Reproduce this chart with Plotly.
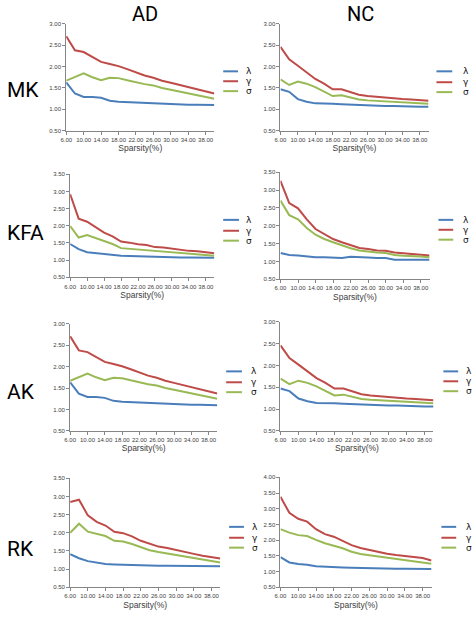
import plotly.graph_objects as go

W, H = 472, 617

sparsity = [6, 8, 10, 12, 14, 16, 18, 20, 22, 24, 26, 28, 30, 32, 34, 36, 38, 40]
tick_vals = [6, 10, 14, 18, 22, 26, 30, 34, 38]
tick_text = ["6.00", "10.00", "14.00", "18.00", "22.00", "26.00", "30.00", "34.00", "38.00"]

series_names = ["λ", "γ", "σ"]
series_colors = ["#4A7EBB", "#BE4B48", "#98B954"]

row_labels = ["MK", "KFA", "AK", "RK"]
col_labels = ["AD", "NC"]

# MK
mk_ad_lambda = [1.63, 1.37, 1.29, 1.29, 1.27, 1.20, 1.18, 1.17, 1.16, 1.15, 1.14, 1.13, 1.12, 1.12, 1.11, 1.11, 1.10, 1.10]
mk_ad_gamma = [2.71, 2.38, 2.34, 2.23, 2.11, 2.06, 2.01, 1.94, 1.87, 1.79, 1.74, 1.67, 1.62, 1.57, 1.53, 1.47, 1.42, 1.37]
mk_ad_sigma = [1.67, 1.75, 1.84, 1.75, 1.68, 1.74, 1.73, 1.68, 1.63, 1.59, 1.56, 1.50, 1.46, 1.42, 1.38, 1.34, 1.29, 1.25]
mk_nc_lambda = [1.47, 1.41, 1.24, 1.18, 1.14, 1.14, 1.13, 1.12, 1.11, 1.10, 1.09, 1.09, 1.08, 1.08, 1.07, 1.07, 1.06, 1.06]
mk_nc_gamma = [2.46, 2.17, 2.02, 1.87, 1.71, 1.60, 1.47, 1.47, 1.41, 1.34, 1.31, 1.29, 1.28, 1.26, 1.24, 1.23, 1.21, 1.20]
mk_nc_sigma = [1.70, 1.57, 1.65, 1.60, 1.52, 1.42, 1.31, 1.33, 1.28, 1.23, 1.21, 1.20, 1.19, 1.18, 1.17, 1.16, 1.14, 1.13]

# KFA
kfa_ad_lambda = [1.47, 1.32, 1.23, 1.20, 1.17, 1.15, 1.13, 1.12, 1.11, 1.10, 1.10, 1.09, 1.09, 1.08, 1.08, 1.07, 1.07, 1.07]
kfa_ad_gamma = [2.92, 2.21, 2.12, 1.97, 1.80, 1.69, 1.54, 1.51, 1.46, 1.44, 1.38, 1.37, 1.33, 1.29, 1.27, 1.26, 1.24, 1.20]
kfa_ad_sigma = [1.99, 1.66, 1.73, 1.64, 1.54, 1.47, 1.35, 1.33, 1.30, 1.29, 1.27, 1.26, 1.23, 1.20, 1.18, 1.17, 1.15, 1.13]
kfa_nc_lambda = [1.24, 1.18, 1.17, 1.14, 1.12, 1.12, 1.10, 1.10, 1.13, 1.11, 1.11, 1.10, 1.10, 1.05, 1.05, 1.05, 1.05, 1.05]
kfa_nc_gamma = [3.26, 2.64, 2.49, 2.18, 1.91, 1.77, 1.63, 1.54, 1.46, 1.38, 1.35, 1.31, 1.30, 1.25, 1.23, 1.22, 1.19, 1.17]
kfa_nc_sigma = [2.71, 2.30, 2.18, 1.94, 1.75, 1.63, 1.54, 1.45, 1.37, 1.31, 1.27, 1.25, 1.24, 1.18, 1.16, 1.16, 1.14, 1.12]

# AK
ak_ad_lambda = [1.63, 1.37, 1.29, 1.29, 1.27, 1.20, 1.18, 1.17, 1.16, 1.15, 1.14, 1.13, 1.12, 1.12, 1.11, 1.11, 1.10, 1.10]
ak_ad_gamma = [2.71, 2.38, 2.34, 2.23, 2.11, 2.06, 2.01, 1.94, 1.87, 1.79, 1.74, 1.67, 1.62, 1.57, 1.53, 1.47, 1.42, 1.37]
ak_ad_sigma = [1.67, 1.75, 1.84, 1.75, 1.68, 1.74, 1.73, 1.68, 1.63, 1.59, 1.56, 1.50, 1.46, 1.42, 1.38, 1.34, 1.29, 1.25]
ak_nc_lambda = [1.47, 1.41, 1.24, 1.18, 1.14, 1.14, 1.13, 1.12, 1.11, 1.10, 1.09, 1.09, 1.08, 1.08, 1.07, 1.07, 1.06, 1.06]
ak_nc_gamma = [2.46, 2.17, 2.02, 1.87, 1.71, 1.60, 1.47, 1.47, 1.41, 1.34, 1.31, 1.29, 1.28, 1.26, 1.24, 1.23, 1.21, 1.20]
ak_nc_sigma = [1.70, 1.57, 1.65, 1.60, 1.52, 1.42, 1.31, 1.33, 1.28, 1.23, 1.21, 1.20, 1.19, 1.18, 1.17, 1.16, 1.14, 1.13]

# RK
rk_ad_lambda = [1.41, 1.30, 1.22, 1.17, 1.14, 1.13, 1.12, 1.11, 1.10, 1.10, 1.09, 1.09, 1.09, 1.08, 1.08, 1.08, 1.08, 1.08]
rk_ad_gamma = [2.85, 2.91, 2.48, 2.30, 2.20, 2.03, 1.99, 1.90, 1.78, 1.69, 1.62, 1.58, 1.52, 1.47, 1.42, 1.37, 1.33, 1.29]
rk_ad_sigma = [2.00, 2.25, 2.03, 1.96, 1.91, 1.78, 1.76, 1.69, 1.60, 1.52, 1.47, 1.43, 1.39, 1.34, 1.30, 1.25, 1.22, 1.18]
rk_nc_lambda = [1.46, 1.29, 1.24, 1.22, 1.17, 1.15, 1.14, 1.13, 1.12, 1.11, 1.10, 1.10, 1.10, 1.09, 1.09, 1.09, 1.08, 1.08]
rk_nc_gamma = [3.38, 2.87, 2.68, 2.59, 2.35, 2.19, 2.11, 1.98, 1.84, 1.75, 1.69, 1.61, 1.57, 1.53, 1.49, 1.46, 1.43, 1.35]
rk_nc_sigma = [2.35, 2.24, 2.16, 2.13, 2.01, 1.90, 1.82, 1.74, 1.63, 1.56, 1.52, 1.48, 1.44, 1.39, 1.35, 1.32, 1.29, 1.25]

panels = [
    [(mk_ad_lambda, mk_ad_gamma, mk_ad_sigma), (mk_nc_lambda, mk_nc_gamma, mk_nc_sigma)],
    [(kfa_ad_lambda, kfa_ad_gamma, kfa_ad_sigma), (kfa_nc_lambda, kfa_nc_gamma, kfa_nc_sigma)],
    [(ak_ad_lambda, ak_ad_gamma, ak_ad_sigma), (ak_nc_lambda, ak_nc_gamma, ak_nc_sigma)],
    [(rk_ad_lambda, rk_ad_gamma, rk_ad_sigma), (rk_nc_lambda, rk_nc_gamma, rk_nc_sigma)],
]
y_max = [[3.0, 3.0], [3.5, 3.5], [3.0, 3.0], [3.5, 4.0]]

# pixel boxes (left, right, top, bottom)
boxes = [
    [(61, 211, 21, 129), (278, 428, 21, 129)],
    [(65, 211, 173, 277), (278, 429, 171, 279)],
    [(65, 214, 324, 432), (278, 433, 322, 432)],
    [(65, 217, 480, 590), (278, 431, 479, 590)],
]
# legend placement: (line x0, line x1, label x, [y rows])
legends = [
    [(220, 235, 242, [69, 79, 89]), (436, 452, 462, [69, 80, 90])],
    [(220, 236, 242, [219, 230, 240]), (438, 453, 462, [219, 229, 239])],
    [(223, 239, 247, [372, 383, 393]), (443, 458, 465, [372, 382, 392])],
    [(226, 241, 248, [529, 540, 550]), (441, 456, 465, [529, 540, 550])],
]
row_label_y = [88, 232, 393, 551]

def px(x):
    return x / W

def py(y):
    return 1 - y / H

fig = go.Figure()
shapes = []
annotations = []
axis_color = "#868686"
narrow = ("Liberation Sans Narrow, Noto Sans ExtraCondensed, Noto Sans Condensed, "
          "Noto Sans SemiCondensed, Liberation Sans, sans-serif")
tick_font = dict(family=narrow, size=6, color="#404040")

n = 0
for r in range(4):
    for c in range(2):
        n += 1
        xa = "x" if n == 1 else f"x{n}"
        ya = "y" if n == 1 else f"y{n}"
        for s in range(3):
            fig.add_trace(go.Scatter(
                x=sparsity, y=panels[r][c][s], mode="lines",
                line=dict(color=series_colors[s], width=2),
                name=series_names[s], showlegend=False,
                xaxis=xa, yaxis=ya,
            ))
        l, rr, t, b = boxes[r][c]
        xkey = "xaxis" if n == 1 else f"xaxis{n}"
        ykey = "yaxis" if n == 1 else f"yaxis{n}"
        fig.update_layout(**{
            xkey: dict(
                domain=[px(l), px(rr)], anchor=ya, range=[6, 40],
                tickmode="array", tickvals=tick_vals, ticktext=tick_text,
                showgrid=False, zeroline=False, showline=True, linecolor=axis_color,
                linewidth=1, ticks="outside", ticklen=3, tickcolor=axis_color,
                tickfont=tick_font, tickangle=0,
                title=dict(text="Sparsity(%)", font=dict(family=narrow, size=8.5, color="#404040"), standoff=3),
            ),
            ykey: dict(
                domain=[py(b), py(t)], anchor=xa, range=[0.5, y_max[r][c]],
                dtick=0.5, tickformat=".2f",
                showgrid=False, zeroline=False, showline=True, linecolor=axis_color,
                linewidth=1, ticks="outside", ticklen=3, tickcolor=axis_color,
                tickfont=tick_font,
            ),
        })
        lx0, lx1, ltx, lys = legends[r][c]
        for s in range(3):
            shapes.append(dict(type="line", xref="paper", yref="paper",
                               x0=px(lx0), x1=px(lx1), y0=py(lys[s]), y1=py(lys[s]),
                               line=dict(color=series_colors[s], width=2)))
            annotations.append(dict(text=series_names[s], xref="paper", yref="paper",
                                    x=px(ltx), y=py(lys[s]), xanchor="left", yanchor="middle",
                                    showarrow=False, borderpad=0,
                                    font=dict(family="DejaVu Sans, sans-serif", size=9, color="#111111")))

col_font = dict(family="Roboto, Liberation Sans, sans-serif", size=20, color="#000000")
row_font = dict(family="Roboto, Liberation Sans, sans-serif", size=21, color="#000000")
for c, (lab, xc) in enumerate(zip(col_labels, [141, 359])):
    annotations.append(dict(text=lab, xref="paper", yref="paper", x=px(xc), y=py(11),
                            xanchor="center", yanchor="middle", showarrow=False, font=col_font))
for r, lab in enumerate(row_labels):
    annotations.append(dict(text=lab, xref="paper", yref="paper", x=0, y=py(row_label_y[r]),
                            xanchor="left", yanchor="middle", showarrow=False, borderpad=0,
                            font=row_font))

fig.update_layout(
    width=W, height=H, margin=dict(l=0, r=0, t=0, b=0),
    paper_bgcolor="white", plot_bgcolor="white",
    shapes=shapes, annotations=annotations, showlegend=False,
)

fig.write_html("out.html", config={"displayModeBar": False},
               post_script="document.body.style.margin='0px';document.body.style.padding='0px';")
